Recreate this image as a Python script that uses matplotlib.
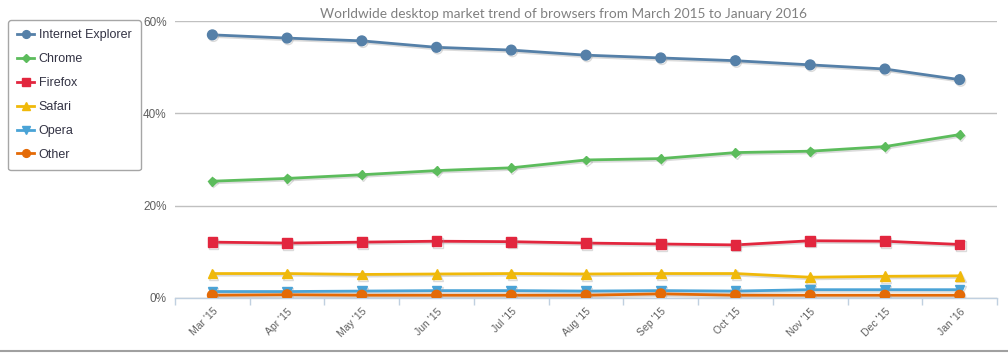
import matplotlib.pyplot as plt
import matplotlib.patheffects as pe
from matplotlib.lines import Line2D

months = ["Mar '15", "Apr '15", "May '15", "Jun '15", "Jul '15", "Aug '15",
          "Sep '15", "Oct '15", "Nov '15", "Dec '15", "Jan '16"]

ie = [57.0, 56.3, 55.7, 54.3, 53.7, 52.6, 52.0, 51.4, 50.5, 49.6, 47.3]
chrome = [25.3, 25.9, 26.7, 27.6, 28.2, 29.9, 30.2, 31.5, 31.8, 32.8, 35.4]
firefox = [12.1, 11.9, 12.1, 12.3, 12.2, 11.9, 11.7, 11.5, 12.4, 12.3, 11.6]
safari = [5.3, 5.3, 5.1, 5.2, 5.3, 5.2, 5.3, 5.3, 4.5, 4.7, 4.8]
opera = [1.4, 1.4, 1.5, 1.6, 1.6, 1.5, 1.6, 1.5, 1.8, 1.8, 1.8]
other = [0.6, 0.7, 0.6, 0.6, 0.6, 0.6, 0.9, 0.6, 0.6, 0.6, 0.6]

y_ticks = [0, 20, 40, 60]
y_labels = ['0%', '20%', '40%', '60%']

series = [
    ('Internet Explorer', ie, '#5580a8', 'o', 7),
    ('Chrome', chrome, '#5cbc5c', 'D', 4.5),
    ('Firefox', firefox, '#e2263e', 's', 7),
    ('Safari', safari, '#f0b90a', '^', 7),
    ('Opera', opera, '#4aa3d6', 'v', 7),
    ('Other', other, '#e46a06', 'o', 7),
]

plt.rcParams['font.family'] = ['Liberation Sans', 'DejaVu Sans']

fig = plt.figure(figsize=(10.08, 3.53), dpi=100)
ax = fig.add_axes([175 / 1008, 55 / 353, 822 / 1008, 277 / 353])

x = list(range(len(months)))
shadow = [pe.SimpleLineShadow(offset=(0.8, -1.2), shadow_color='0.6', alpha=0.35), pe.Normal()]
for name, vals, color, marker, ms in series:
    ax.plot(x, vals, color=color, lw=2, marker=marker, markersize=ms,
            markeredgecolor=color, label=name, zorder=3, path_effects=shadow)

ax.set_xlim(-0.5, len(months) - 0.5)
ax.set_ylim(0, 60)
ax.set_yticks(y_ticks)
ax.set_yticklabels(y_labels, color='#606060', fontsize=8.5)
ax.yaxis.grid(True, color='#c0c0c0', lw=1)
ax.tick_params(axis='y', length=0, pad=6)
ax.set_axisbelow(True)

ax.set_xticks(x)
ax.set_xticklabels(months, rotation=45, ha='right', rotation_mode='anchor',
                   color='#606060', fontsize=7.5)
ax.set_xticks([i + 0.5 for i in range(-1, len(months))], minor=True)
ax.tick_params(axis='x', which='major', length=0, pad=6)
ax.tick_params(axis='x', which='minor', length=5, color='#c0d0e0', width=1)

for side in ['top', 'right', 'left']:
    ax.spines[side].set_visible(False)
ax.spines['bottom'].set_color('#c0d0e0')
ax.spines['bottom'].set_linewidth(1)

fig.text(563 / 1008, 1 - 14 / 353, 'Worldwide desktop market trend of browsers from March 2015 to January 2016',
         ha='center', va='center', fontsize=9.8, color='#808080', family=['Lato', 'DejaVu Sans'])

leg = ax.legend(loc='upper left', bbox_to_anchor=(8 / 1008, 1 - 20 / 353),
                bbox_transform=fig.transFigure, frameon=True, fancybox=True,
                fontsize=9, labelcolor='#333344', handlelength=1.3, markerscale=0.8,
                labelspacing=0.95, borderpad=0.75, borderaxespad=0, handletextpad=0.4)
leg.get_frame().set_edgecolor('#909090')
leg.get_frame().set_linewidth(1)
for h in leg.legend_handles:
    h.set_path_effects([])

fig.add_artist(Line2D([0, 1], [2.5 / 353, 2.5 / 353], transform=fig.transFigure,
                      color='#a0a0a0', lw=1.5))

plt.savefig('out.png', dpi=100)
